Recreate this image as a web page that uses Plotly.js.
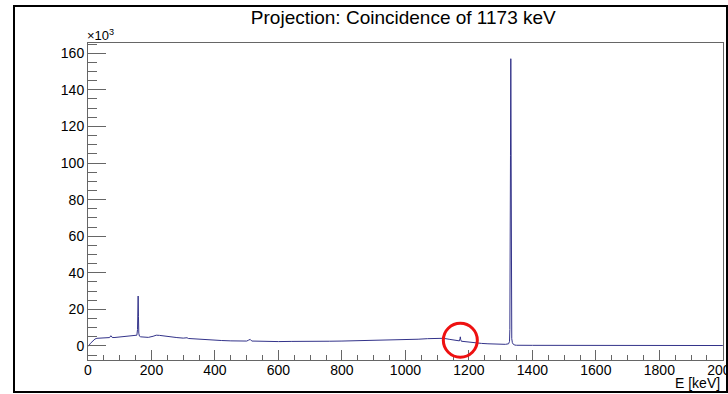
<!DOCTYPE html>
<html>
<head>
<meta charset="utf-8">
<script src="https://cdn.plot.ly/plotly-3.0.1.min.js"></script>
<style>
html, body { margin: 0; padding: 0; background: #fff; }
#wrap { position: relative; width: 728px; height: 394px; overflow: hidden; }
#chart { position: absolute; left: 0; top: 0; width: 728px; height: 394px; }
#frame { position: absolute; left: 13px; top: 5px; width: 715px; height: 388px; box-sizing: border-box; border: 2px solid #000; pointer-events: none; }
</style>
</head>
<body>
<div id="wrap"><div id="chart"></div><div id="frame"></div></div>
<script>
// Energy (keV) of each sampled bin
const energy = [0, 3, 8, 15, 22, 28, 40, 55, 68, 72, 76, 82, 100, 120, 140, 150, 154, 156, 157, 158, 159, 160, 162, 166, 175, 190, 205, 215, 225, 240, 260, 280, 300, 312, 316, 330, 360, 390, 420, 450, 480, 500, 506, 511, 516, 530, 560, 600, 640, 680, 720, 760, 800, 840, 880, 920, 960, 1000, 1040, 1070, 1100, 1120, 1140, 1155, 1165, 1170, 1172, 1173, 1174, 1176, 1185, 1200, 1220, 1240, 1260, 1280, 1300, 1315, 1325, 1328, 1329, 1330, 1331, 1332, 1333, 1334, 1335, 1337, 1340, 1345, 1350, 1400, 1500, 1600, 1700, 1800, 1900, 2000];
// Counts in units of 10^3
const counts = [0, 0.3, 1.5, 2.8, 3.8, 4.2, 4.3, 4.4, 4.6, 5.6, 4.7, 4.6, 4.9, 5.1, 5.4, 5.6, 5.9, 9, 20, 27.3, 16, 7, 5.4, 5.0, 4.8, 4.7, 5.3, 5.9, 5.8, 5.4, 5.0, 4.6, 4.3, 4.5, 4.1, 3.9, 3.6, 3.2, 3.0, 2.8, 2.6, 2.7, 3.2, 3.6, 2.7, 2.6, 2.5, 2.4, 2.5, 2.4, 2.5, 2.6, 2.7, 2.8, 2.9, 3.0, 3.2, 3.4, 3.7, 4.0, 4.3, 4.2, 3.6, 3.0, 2.7, 2.8, 4.0, 5.0, 3.6, 2.6, 2.4, 2.0, 1.6, 1.4, 1.2, 1.0, 0.9, 0.9, 1.2, 2.5, 9, 32, 104, 157, 60, 12, 4, 1.8, 0.9, 0.5, 0.4, 0.35, 0.3, 0.3, 0.28, 0.26, 0.25, 0.25];
const titleText = 'Projection: Coincidence of 1173 keV';
const xTitle = 'E [keV]';
const highlightEnergy = 1173;

const font = 'Liberation Sans, Arial, Helvetica, sans-serif';
const axisCol = '#666';

const trace = {
  x: energy, y: counts, type: 'scatter', mode: 'lines',
  line: { color: '#33338a', width: 1 }, hoverinfo: 'skip'
};

const layout = {
  width: 728, height: 394,
  margin: { l: 88, r: 5, t: 43, b: 34 },
  paper_bgcolor: '#fff', plot_bgcolor: '#fff',
  showlegend: false,
  font: { family: font, size: 14, color: '#000' },
  title: {
    text: titleText, font: { family: font, size: 19, color: '#000' },
    xref: 'container', x: 0.554, xanchor: 'center',
    yref: 'container', y: 0.973, yanchor: 'top'
  },
  xaxis: {
    range: [0, 2000.5], dtick: 200, tick0: 0,
    ticks: 'inside', ticklen: 10, tickcolor: axisCol, tickwidth: 1,
    minor: { dtick: 50, ticks: 'inside', ticklen: 5, tickcolor: axisCol },
    showline: true, linecolor: axisCol, linewidth: 1, mirror: true,
    showgrid: false, zeroline: false, ticklabeloverflow: 'allow',
    ticklabelstandoff: -3,
    tickfont: { family: font, size: 14, color: '#000' }
  },
  yaxis: {
    range: [-7.66, 165.6], dtick: 20, tick0: 0,
    ticks: 'inside', ticklen: 18, tickcolor: axisCol, tickwidth: 1,
    minor: { dtick: 5, ticks: 'inside', ticklen: 9, tickcolor: axisCol },
    showline: true, linecolor: axisCol, linewidth: 1, mirror: true,
    showgrid: false, zeroline: false,
    tickfont: { family: font, size: 14, color: '#000' }
  },
  annotations: [
    { text: '×10<sup>3</sup>', xref: 'paper', yref: 'paper', x: 0, y: 1,
      xanchor: 'left', yanchor: 'bottom', showarrow: false, xshift: -3, yshift: -2,
      font: { family: font, size: 13, color: '#000' } },
    { text: xTitle, xref: 'paper', yref: 'paper', x: 1, y: -0.072,
      xanchor: 'right', yanchor: 'middle', xshift: -1, showarrow: false,
      font: { family: font, size: 14, color: '#000' } }
  ],
  shapes: [
    { type: 'circle', xref: 'x', yref: 'y', xsizemode: 'pixel', ysizemode: 'pixel',
      xanchor: highlightEnergy, yanchor: 0,
      x0: -17, x1: 17, y0: -11.3, y1: 22.7,
      line: { color: '#ee1111', width: 3 } }
  ]
};

Plotly.newPlot('chart', [trace], layout, { staticPlot: true, displayModeBar: false });
</script>
</body>
</html>
